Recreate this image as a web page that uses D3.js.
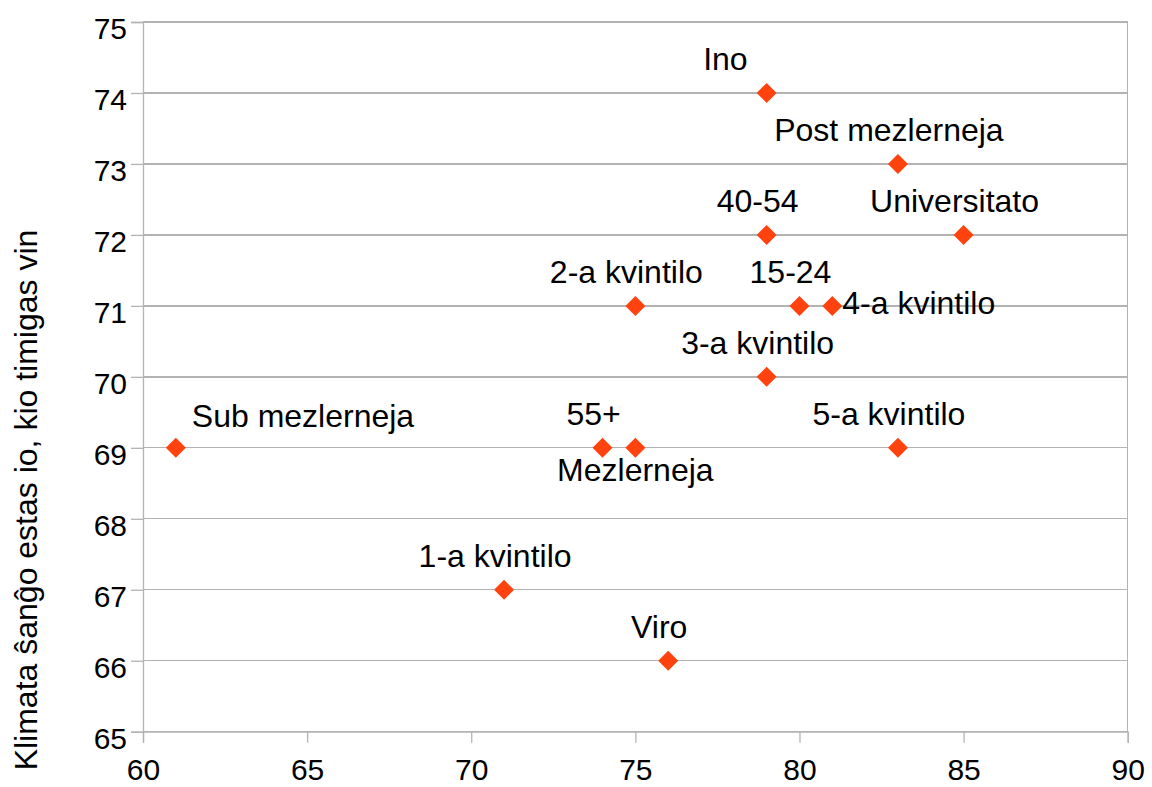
<!DOCTYPE html>
<html><head><meta charset="utf-8">
<script src="https://cdn.jsdelivr.net/npm/d3@7"></script>
<style>
html,body{margin:0;padding:0;background:#fff;}
svg text{font-family:"Liberation Sans",Arial,sans-serif;fill:#000;}
</style></head>
<body><svg id="c" width="1152" height="787"></svg>
<script>
const labels = ["Ino","Post mezlerneja","40-54","Universitato","2-a kvintilo","15-24","4-a kvintilo","3-a kvintilo","Sub mezlerneja","55+","Mezlerneja","5-a kvintilo","1-a kvintilo","Viro"];
const xValues = [79,83,79,85,75,80,81,79,61,74,75,83,71,76];
const yValues = [74,73,72,72,71,71,71,70,69,69,69,69,67,66];
const labelPlacement = ["topleft","top","top","top","top","top","right","top","topright","top","bottom","top","top","top"];
const xTicks = [60,65,70,75,80,85,90];
const yTicks = [65,66,67,68,69,70,71,72,73,74,75];
const yTitle = "Klimata ŝanĝo estas io, kio timigas vin";

const svg = d3.select("#c");
const x = d3.scaleLinear().domain([60,90]).range([143,1127.7]);
const y = d3.scaleLinear().domain([65,75]).range([731.7,22]);
const grid = "#b3b3b3";
const tickFs = 30;
const fs = 32;

// horizontal grid
svg.append("g").selectAll("line").data(yTicks).join("line")
  .attr("x1",x(60)).attr("x2",x(90)).attr("y1",d=>y(d)).attr("y2",d=>y(d))
  .attr("stroke",grid).attr("stroke-width",1.3).attr("shape-rendering","crispEdges");
// right border
svg.append("line").attr("x1",x(90)).attr("x2",x(90)).attr("y1",y(75)).attr("y2",y(65))
  .attr("stroke",grid).attr("stroke-width",1.3).attr("shape-rendering","crispEdges");

// axes
const yAxis = svg.append("g").attr("transform",`translate(${x(60)},0)`)
  .call(d3.axisLeft(y).tickValues(yTicks).tickSize(12).tickPadding(4).tickFormat(d3.format("d")));
const xAxis = svg.append("g").attr("transform",`translate(0,${y(65)})`)
  .call(d3.axisBottom(x).tickValues(xTicks).tickSize(11).tickPadding(0).tickFormat(d3.format("d")));
[yAxis,xAxis].forEach(g=>{
  g.select(".domain").attr("stroke",grid).attr("stroke-width",1.3);
  g.selectAll(".tick line").attr("stroke",grid).attr("stroke-width",1.3);
  g.selectAll("text").attr("font-size",tickFs).attr("font-family","Liberation Sans, Arial, sans-serif").attr("fill","#000");
});
yAxis.selectAll("text").attr("dy","0.55em");
xAxis.selectAll("text").attr("dy",null).attr("y",48.5);

// y title
svg.append("text").attr("transform","translate(37,500) rotate(-90)")
  .attr("text-anchor","middle").attr("font-size",fs).text(yTitle);

// points
const pts = labels.map((l,i)=>({label:l,x:xValues[i],y:yValues[i],p:labelPlacement[i]}));
svg.append("g").selectAll("path").data(pts).join("path")
  .attr("d",d3.symbol().type(d3.symbolSquare).size(200))
  .attr("transform",d=>`translate(${x(d.x)},${y(d.y)}) rotate(45)`)
  .attr("fill","#ff420e");

// labels
svg.append("g").selectAll("text").data(pts).join("text")
  .attr("font-size",fs)
  .text(d=>d.label)
  .each(function(d){
    const px=x(d.x), py=y(d.y), t=d3.select(this);
    if(d.p==="top"){t.attr("x",px-9).attr("y",py-23).attr("text-anchor","middle");}
    else if(d.p==="topleft"){t.attr("x",px-19).attr("y",py-23).attr("text-anchor","end");}
    else if(d.p==="topright"){t.attr("x",px+16).attr("y",py-21).attr("text-anchor","start");}
    else if(d.p==="right"){t.attr("x",px+10).attr("y",py+8).attr("text-anchor","start");}
    else if(d.p==="bottom"){t.attr("x",px).attr("y",py+33).attr("text-anchor","middle");}
  });
</script></body></html>
